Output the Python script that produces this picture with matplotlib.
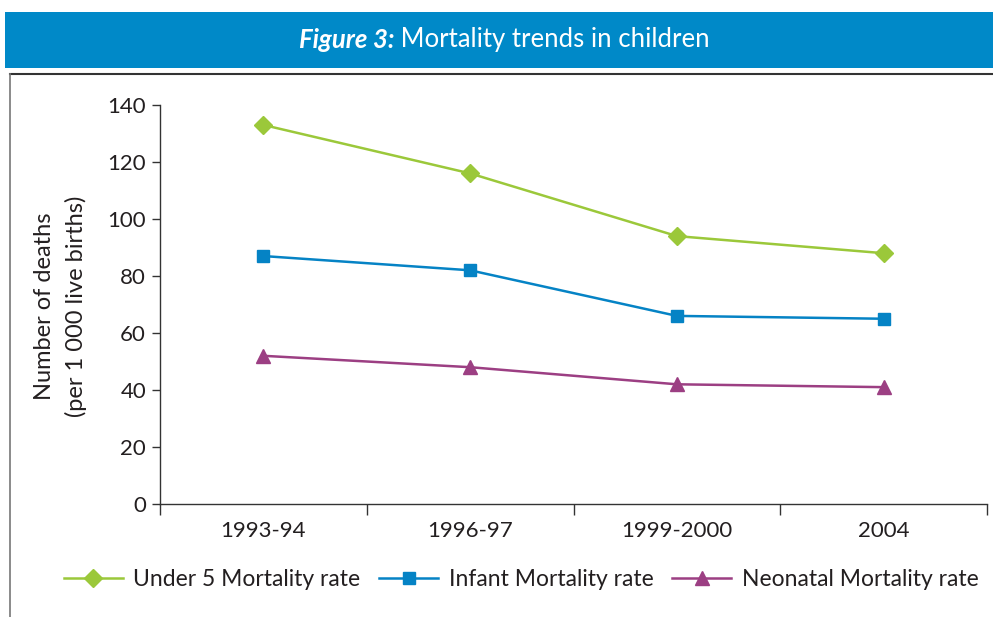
import matplotlib
matplotlib.use("Agg")
import matplotlib.pyplot as plt
from matplotlib.lines import Line2D
from matplotlib.patches import Rectangle

plt.rcParams['font.family'] = ['Lato', 'DejaVu Sans']

categories = ["1993-94", "1996-97", "1999-2000", "2004"]
under5 = [133, 116, 94, 88]
infant = [87, 82, 66, 65]
neonatal = [52, 48, 42, 41]
series_names = ["Under 5 Mortality rate", "Infant Mortality rate", "Neonatal Mortality rate"]
y_ticks = [0, 20, 40, 60, 80, 100, 120, 140]

W, H = 993, 617
fig = plt.figure(figsize=(W / 100, H / 100), dpi=100)

# Title bar
fig.add_artist(Rectangle((5 / W, 1 - 68 / H), 1 - 5 / W, 56 / H, transform=fig.transFigure,
                         facecolor="#0089c8", edgecolor="none"))
t1 = fig.text(299 / W, 1 - 40 / H, "Figure 3:", color="white", fontsize=18.5,
              fontweight="bold", fontstyle="italic", ha="left", va="center")
fig.add_artist(plt.Annotation(" Mortality trends in children", xy=(1, 0.5), xycoords=t1,
                              va="center", ha="left", color="white", fontsize=18.5))

# Frame lines
fig.add_artist(Line2D([10 / W, 1], [1 - 74 / H, 1 - 74 / H], transform=fig.transFigure,
                      color="#333333", lw=1.5))
fig.add_artist(Line2D([10 / W, 10 / W], [0, 1 - 74 / H], transform=fig.transFigure,
                      color="#777777", lw=1.2))

ax = fig.add_axes([160 / W, 1 - 504 / H, (987 - 160) / W, (504 - 105) / H])
x = list(range(len(categories)))
ax.plot(x, under5, color="#9bc83a", lw=1.8, marker="D", ms=9, label=series_names[0])
ax.plot(x, infant, color="#0583c5", lw=1.8, marker="s", ms=9, label=series_names[1])
ax.plot(x, neonatal, color="#9c3f83", lw=1.8, marker="^", ms=10, label=series_names[2])

ax.set_xlim(-0.5, len(categories) - 0.5)
ax.set_ylim(0, 140)
ax.set_yticks(y_ticks)
ax.set_xticks(x)
ax.set_xticklabels(categories)
ax.set_xticks([i - 0.5 for i in range(len(categories) + 1)], minor=True)
ax.tick_params(axis="x", which="major", length=0, pad=12, labelsize=16, colors="#231f20")
ax.tick_params(axis="x", which="minor", length=8, width=1, color="#333333", direction="out")
ax.tick_params(axis="y", length=6, width=1, color="#333333", labelsize=16, labelcolor="#231f20", pad=4)
for s in ["top", "right"]:
    ax.spines[s].set_visible(False)
for s in ["left", "bottom"]:
    ax.spines[s].set_color("#333333")
    ax.spines[s].set_linewidth(1)
ax.set_facecolor("none")

fig.text(45 / W, 1 - 306 / H, "Number of deaths", rotation=90, ha="center", va="center",
         fontsize=17, color="#231f20")
fig.text(76 / W, 1 - 306 / H, "(per 1 000 live births)", rotation=90, ha="center", va="center",
         fontsize=17, color="#231f20")

fig.legend(loc="center", bbox_to_anchor=(521 / W, 1 - 580 / H), ncol=3, frameon=False,
           fontsize=16.5, handlelength=2.6, columnspacing=0.8, handletextpad=0.45,
           labelcolor="#231f20", borderpad=0, borderaxespad=0)

fig.savefig("out.png", dpi=100)
